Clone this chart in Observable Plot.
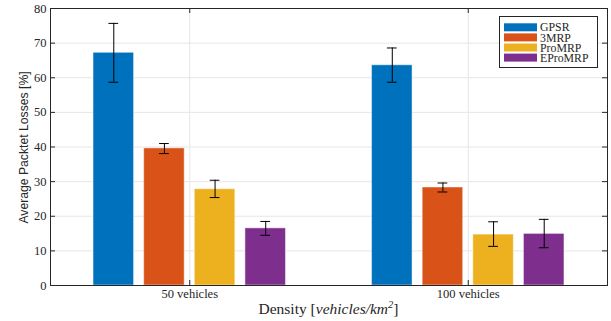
<!DOCTYPE html>
<html>
<head>
<meta charset="utf-8">
<script src="https://cdn.jsdelivr.net/npm/d3@7"></script>
<script src="https://cdn.jsdelivr.net/npm/@observablehq/plot@0.6"></script>
<style>
  html, body { margin: 0; padding: 0; background: #fff; }
  #chart svg { display: block; }
</style>
</head>
<body>
<div id="chart"></div>
<script>
// ---- data ----
const groups = ["50 vehicles", "100 vehicles"];
const series = ["GPSR", "3MRP", "ProMRP", "EProMRP"];
const colors = ["#0072BD", "#D95319", "#EDB120", "#7E2F8E"];
const gpsr    = [67.2, 63.6];
const mrp3    = [39.6, 28.3];
const promrp  = [27.8, 14.7];
const epromrp = [16.5, 14.9];
const gpsrLo    = [58.7, 58.7], gpsrHi    = [75.7, 68.6];
const mrp3Lo    = [38.1, 27.0], mrp3Hi    = [41.0, 29.6];
const promrpLo  = [25.4, 11.3], promrpHi  = [30.4, 18.4];
const epromrpLo = [14.5, 10.9], epromrpHi = [18.5, 19.1];
const yTicks = [0, 10, 20, 30, 40, 50, 60, 70, 80];

const values = [gpsr, mrp3, promrp, epromrp];
const lows = [gpsrLo, mrp3Lo, promrpLo, epromrpLo];
const highs = [gpsrHi, mrp3Hi, promrpHi, epromrpHi];

// MATLAB grouped bar geometry (in category units)
const nS = series.length;
const groupWidth = Math.min(0.8, nS / (nS + 1.5));
const step = groupWidth / nS;
const barW = step * 0.8;
const capW = barW * 0.12;

const rows = [];
groups.forEach((g, gi) => {
  series.forEach((s, si) => {
    const xc = gi + 1 + (si - (nS - 1) / 2) * step;
    rows.push({group: g, series: s, xc, value: values[si][gi], lo: lows[si][gi], hi: highs[si][gi]});
  });
});

const W = 611, H = 321;
const mL = 50, mR = 4, mT = 8, mB = 36;
const innerW = W - mL - mR, innerH = H - mT - mB;
const tickLen = 5;
const axisColor = "#262626";
const gridColor = "#e6e6e6";
const serif = "'Liberation Serif', 'DejaVu Serif', serif";

const chart = Plot.plot({
  width: W, height: H,
  marginLeft: mL, marginRight: mR, marginTop: mT, marginBottom: mB,
  style: {background: "white", overflow: "visible"},
  x: {domain: [0.5, groups.length + 0.5], axis: null},
  y: {domain: [0, 80], axis: null},
  color: {domain: series, range: colors},
  marks: [
    Plot.ruleY(yTicks.slice(1, -1), {stroke: gridColor, strokeWidth: 1}),
    Plot.ruleX(groups.map((g, i) => i + 1), {stroke: gridColor, strokeWidth: 1}),
    Plot.rectY(rows, {
      x1: d => d.xc - barW / 2, x2: d => d.xc + barW / 2,
      y1: 0, y2: "value", fill: "series",
      stroke: "white", strokeOpacity: 0.45, strokeWidth: 1
    }),
    Plot.ruleX(rows, {x: "xc", y1: "lo", y2: "hi", stroke: "black", strokeWidth: 1}),
    Plot.ruleY(rows, {x1: d => d.xc - capW, x2: d => d.xc + capW, y: "lo", stroke: "black", strokeWidth: 1}),
    Plot.ruleY(rows, {x1: d => d.xc - capW, x2: d => d.xc + capW, y: "hi", stroke: "black", strokeWidth: 1}),
    // inward ticks (MATLAB box style)
    Plot.tickY(yTicks, {y: d => d, insetRight: innerW - tickLen, stroke: axisColor}),
    Plot.tickY(yTicks, {y: d => d, insetLeft: innerW - tickLen, stroke: axisColor}),
    Plot.tickX(groups.map((g, i) => i + 1), {x: d => d, insetTop: innerH - tickLen, stroke: axisColor}),
    Plot.tickX(groups.map((g, i) => i + 1), {x: d => d, insetBottom: innerH - tickLen, stroke: axisColor}),
    Plot.frame({stroke: axisColor, strokeWidth: 1}),
    Plot.axisY(yTicks, {tickSize: 0, tickPadding: 4, label: null, fontFamily: serif, fontSize: 12.5, fill: "#262626"}),
    Plot.axisX(groups.map((g, i) => i + 1), {tickSize: 0, tickPadding: 4, label: null, fontFamily: serif, fontSize: 12.5, fill: "#262626",
      tickFormat: d => groups[d - 1]})
  ]
});

document.getElementById("chart").appendChild(chart);

const svg = d3.select(chart);
const xs = chart.scale("x"), ys = chart.scale("y");

// y axis label
svg.append("text")
  .attr("transform", `translate(27.5,${(ys.apply(0) + ys.apply(80)) / 2 + 1}) rotate(-90)`)
  .attr("text-anchor", "middle")
  .attr("font-family", "'Liberation Sans', Arial, sans-serif")
  .attr("font-size", 12.2)
  .attr("fill", "#262626")
  .text("Average Packtet Losses [%]");

// x axis label with LaTeX-like styling
const xl = svg.append("text")
  .attr("x", (xs.apply(0.5) + xs.apply(groups.length + 0.5)) / 2)
  .attr("y", 313.5)
  .attr("text-anchor", "middle")
  .attr("font-family", serif)
  .attr("font-size", 15.5)
  .attr("fill", "#262626");
xl.append("tspan").text("Density [");
xl.append("tspan").attr("font-style", "italic").text("vehicles/km");
xl.append("tspan").attr("font-style", "italic").attr("font-size", 10.5).attr("dy", -6).text("2");
xl.append("tspan").attr("dy", 6).text("]");

// legend
const lx = 499, ly = 16, lw = 98, lh = 51;
const lg = svg.append("g");
lg.append("rect").attr("x", lx + 0.5).attr("y", ly + 0.5).attr("width", lw).attr("height", lh)
  .attr("fill", "white").attr("stroke", axisColor).attr("stroke-width", 1);
series.forEach((s, i) => {
  const cy = ly + 11.3 + i * 10.1;
  lg.append("rect").attr("x", lx + 5).attr("y", cy - 4).attr("width", 33).attr("height", 8)
    .attr("fill", chart.scale("color").apply(s));
  lg.append("text").attr("x", lx + 41).attr("y", cy).attr("dy", "0.35em")
    .attr("text-anchor", "start")
    .attr("font-family", serif).attr("font-size", 11.8).attr("fill", "#262626").text(s);
});
</script>
</body>
</html>
